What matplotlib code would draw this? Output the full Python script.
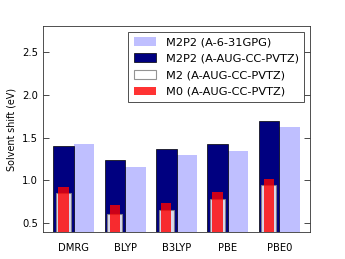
import matplotlib
matplotlib.use("Agg")
import matplotlib.pyplot as plt
import numpy as np

categories = ["DMRG", "BLYP", "B3LYP", "PBE", "PBE0"]
m2p2_631 = [1.42, 1.16, 1.30, 1.34, 1.62]
m2p2_aug = [1.40, 1.24, 1.37, 1.42, 1.69]
m2_aug = [0.86, 0.61, 0.66, 0.78, 0.95]
m0_aug = [0.93, 0.72, 0.74, 0.87, 1.02]

fig = plt.figure(figsize=(3.45, 2.59), dpi=100)
ax = fig.add_axes([43/345, 1-232/259, 267/345, 206/259])
x = np.arange(len(categories))
w = 0.4
ax.bar(x + w, m2p2_631, width=w, align="edge", color="blue", alpha=0.25,
       linewidth=0, label="M2P2 (A-6-31GPG)", zorder=1)
ax.bar(x, m2p2_aug, width=w, align="edge", color="navy", edgecolor="black",
       linewidth=0.5, label="M2P2 (A-AUG-CC-PVTZ)", zorder=2)
ax.bar(x + w/2, m2_aug, width=0.29, color="white", edgecolor="grey",
       linewidth=0.8, alpha=0.85, label="M2 (A-AUG-CC-PVTZ)", zorder=3)
ax.bar(x + w/2, m0_aug, width=0.2, color="red", alpha=0.8, linewidth=0,
       label="M0 (A-AUG-CC-PVTZ)", zorder=4)

ax.set_xlim(-0.2, 5.0)
ax.set_ylim(0.4, 2.8)
ax.set_xticks(x + w)
ax.set_xticklabels(categories, fontsize=7.2)
ax.set_yticks([0.5, 1.0, 1.5, 2.0, 2.5])
ax.tick_params(axis="y", labelsize=7.2, direction="in", right=True, length=4, width=0.5)
ax.tick_params(axis="x", length=0, pad=8)
ax.set_ylabel("Solvent shift (eV)", fontsize=6.9)
for s in ax.spines.values():
    s.set_linewidth(0.6)
    s.set_color("#333333")

leg = ax.legend(loc="upper right", fontsize=8.2, fancybox=False, framealpha=1,
                edgecolor="#333333", borderpad=0.45, labelspacing=0.55,
                handlelength=2.0, handleheight=0.8, handletextpad=0.85,
                borderaxespad=0, bbox_to_anchor=(0.978, 0.972))
leg.get_frame().set_linewidth(0.6)
fig.savefig("out.png", dpi=100)
